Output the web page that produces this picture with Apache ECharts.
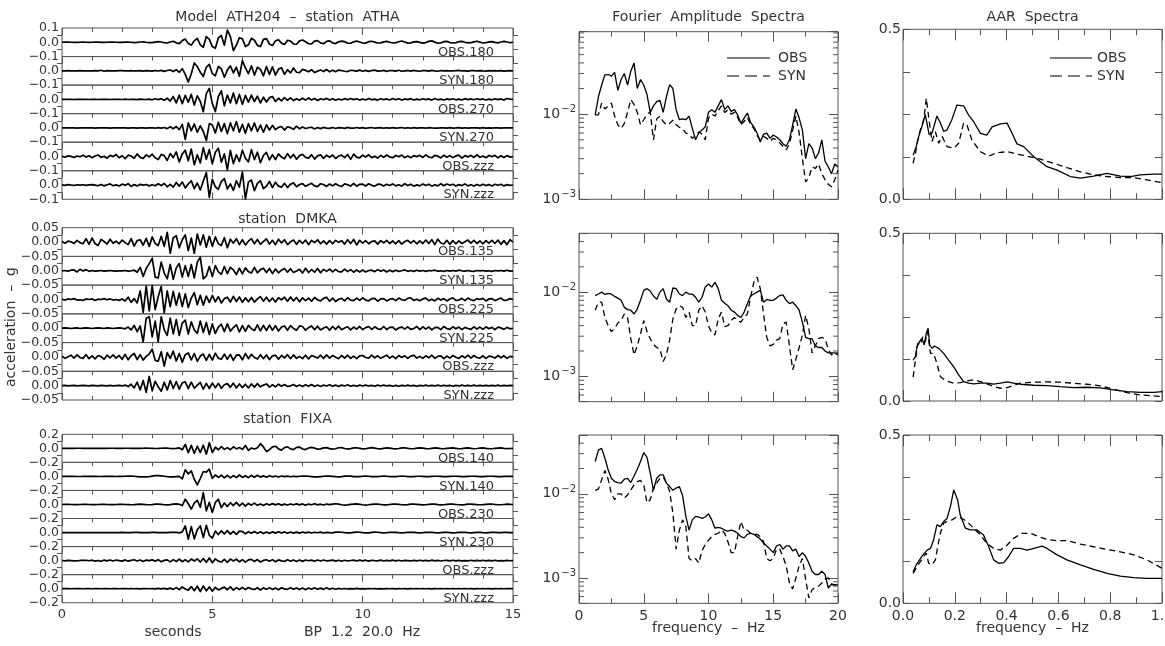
<!DOCTYPE html>
<html>
<head>
<meta charset="utf-8">
<script src="https://cdn.jsdelivr.net/npm/echarts@6/dist/echarts.min.js"></script>
<style>
  html, body { margin: 0; padding: 0; background: #fff; }
  #chart { width: 1165px; height: 646px; }
</style>
</head>
<body>
<div id="chart"></div>
<script>
// ---------------------------------------------------------------------------
// Accelerograms, milli-g, one sample every 0.1 s from 0 to 15 s (151 samples)
// ---------------------------------------------------------------------------
const SAMPLE_DT = 0.1;

// station ATHA
const athaObs180 = [
0,1,1,0,-1,-1,0,1,0,-1, 0,1,1,-1,-1,0,1,1,0,-1, -1,1,2,0,-2,-1,2,3,0,-2,
-3,1,4,2,-3,-5,2,7,-4,-9, 12,22,-8,-20,10,28,-18,-35,40,20, -30,-42,30,48,-20,85,40,-58,-20,32,
24,-30,-18,28,14,-22,-30,20,26,-12, -22,10,18,-6,-16,14,8,-12,-14,10, 16,4,-10,-12,8,12,-4,-10,6,10,
-4,-9,3,8,4,-6,-7,3,8,2, -5,-6,4,7,1,-5,-4,3,6,0, -5,-3,4,9,2,-6,-4,3,5,-1,
-6,-2,6,10,1,-7,-4,4,6,-2, -5,-2,4,6,0,-4,-3,3,7,1, -5,-3,3,5,-1,-4,2,6,2,-3, 0];
const athaSyn180 = [
0,0,1,0,-1,0,1,0,0,-1, 0,1,0,4,-3,1,0,-1,0,1, 1,-1,0,2,-1,0,1,-2,1,0,
-2,2,-1,3,-4,2,6,-5,8,-10, 15,-25,-78,-20,55,30,-10,-40,25,45, -20,-35,30,15,-45,5,35,-15,25,-38,
72,20,-20,35,-30,25,10,-35,30,-25, 28,-30,12,22,-25,8,-15,20,-10,-12, 10,3,-6,8,-12,-2,6,-5,9,-7,
4,-6,5,2,-3,-5,4,1,-2,5, -3,3,-4,2,5,-2,-1,3,-4,2, 1,-2,4,-3,0,2,-2,3,-1,-3,
2,1,-2,3,-1,-3,2,0,2,-1, -1,2,3,-1,0,-2,1,2,-1,1, -1,-2,1,0,2,-1,1,-2,0,1, 0];
const athaObs270 = [
0,0,1,0,-1,0,0,1,0,-1, 0,1,-1,0,1,0,-1,1,0,0, -1,2,-1,1,0,-2,2,0,-1,2,
-3,4,-2,5,-6,8,-12,20,-25,30, -30,28,-20,35,-40,25,-15,-86,40,77, -30,-85,20,60,-45,30,-25,45,-30,35,
-35,28,-20,30,-15,22,-25,15,-18,12, 20,-15,8,-10,12,-6,10,-8,5,-6, 8,-5,10,-4,6,-8,4,-3,7,-5,
4,-6,3,-4,5,-3,6,-2,4,-5, 3,-4,6,-3,2,-5,4,-2,3,-4, 6,-3,4,-5,3,-2,5,-4,2,-3,
4,-2,3,-5,6,-3,2,-4,3,-2, 4,-3,2,-4,5,-2,3,-3,4,-2, 3,-4,2,-3,4,-2,3,-5,6,2, 0];
const athaSyn270 = [
0,0,0,1,0,-1,0,0,1,0, 0,-1,0,1,0,0,-1,0,1,0, 0,1,-1,0,1,-1,0,1,-1,0,
1,-2,2,-1,3,-5,8,-6,10,-12, 25,-80,35,-20,28,-30,15,-25,-88,30, 20,-35,40,-25,30,-40,35,-20,45,-30,
25,-38,30,-20,35,-25,20,-30,22,-15, 18,-12,4,10,-15,8,2,-10,12,-6, 6,-4,1,5,-7,3,-5,4,-1,-3,
3,-4,2,1,-3,4,-2,-2,3,-1, 2,-3,1,3,-2,0,2,-2,1,-1, 2,-1,0,3,-2,1,-2,2,-1,0,
1,-2,2,0,-1,-2,1,1,-1,2, -1,0,2,-1,1,-2,0,1,1,-1, 2,-1,0,-2,1,1,-1,0,1,0, 0];
const athaObsZ = [
2,-5,4,1,-7,3,-2,8,-4,5, -9,3,10,-6,2,-12,8,-1,14,-9, 5,-16,9,3,-12,18,-6,-14,11,-3,
16,-9,-22,14,6,-28,20,-8,32,-38, 18,44,-30,52,-58,12,-45,62,-20,48, -52,30,58,-40,18,-93,42,-50,12,-35,
44,-12,-38,48,-22,30,-44,8,28,-24, 12,-22,18,-4,-16,20,-10,14,-19,6, 15,-6,-12,13,-18,4,11,-13,9,-5,
10,-14,3,9,-8,14,-20,17,-5,-10, 9,-4,12,-8,2,-11,8,-6,10,-3, -9,7,-2,10,-8,4,-9,6,-1,8,
-7,11,-4,-9,8,2,-10,9,-5,6, -8,4,9,-11,6,-3,8,-7,12,-6, 3,-9,7,-2,8,-10,5,-7,6,-4, 0];
const athaSynZ = [
1,-2,3,0,-3,2,-1,2,-2,1, 3,-1,-5,4,-6,2,8,-5,1,-7, 6,-2,9,-10,3,-6,5,-1,4,-6,
2,-5,9,-4,11,-12,5,-15,18,-8, 22,-20,8,30,-25,14,-35,28,88,-86, 40,-12,-30,25,45,-28,8,-38,30,-15,
90,-98,20,35,-40,12,30,-25,-8,25, -18,20,-8,-15,12,-18,6,15,-12,4, 10,-9,2,12,-6,-11,9,3,-10,7,
-6,9,-3,-10,8,2,-7,11,-8,5, 6,-7,9,-2,-8,6,4,-7,5,-3, 8,-6,2,-7,9,-4,6,-8,1,-6,
7,-3,6,-8,2,-6,9,-5,7,-2, 5,-7,3,-4,8,-6,2,-7,4,-5, 6,-4,3,-7,5,-2,5,-6,3,-2, 0];

// station DMKA
const dmkaObs135 = [
2,-4,3,1,-5,6,-2,-6,12,-8, 14,-5,-12,9,2,-7,10,-4,3,-6, 7,-2,-9,12,-14,5,8,-11,13,-15,
18,-5,-12,20,-15,34,-39,15,22,-20, 8,25,-30,14,-39,28,-10,25,-18,20, -15,18,-6,-12,15,-20,10,-4,12,-9,
8,-10,3,12,-6,9,-8,2,11,-7, 6,-9,10,-3,8,-9,1,7,-8,6, -5,7,-9,6,-2,8,-6,4,-7,5,
-6,6,-1,5,-7,8,-5,9,-10,6, -4,5,-6,2,4,-7,5,-3,6,-5, 4,-6,5,-7,2,6,-4,5,-6,4,
-5,7,-5,8,-9,10,-3,-7,6,-8, 5,-6,4,-5,1,7,-4,6,-5,4, -6,5,-4,6,-5,7,-8,5,-9,8, 0];
const dmkaSyn135 = [
0,1,-1,2,3,-4,5,-1,4,-2, 1,-1,0,1,-1,0,1,0,-1,0, 0,1,-1,0,2,-5,12,-20,8,25,
43,-22,-25,30,-8,-28,22,-30,10,25, -22,18,-20,22,-25,30,47,-28,-18,15, -20,18,-4,-12,15,-10,12,3,-13,9,
-11,10,-3,-8,12,-7,4,9,-6,8, -10,6,-7,2,8,-5,7,-6,-1,5, -8,9,-6,4,-5,8,-7,5,-2,6,
-4,5,-3,-4,6,-3,4,-5,3,-4, 3,-4,1,2,-3,4,-2,3,-4,2, -3,2,-2,0,3,-2,1,-2,2,-1,
1,-2,1,0,2,-1,0,-2,1,-1, 1,-1,2,0,-1,1,-1,-2,1,0, 1,-1,0,-2,1,0,1,-1,2,-1, 0];
const dmkaObs225 = [
1,-2,2,0,3,-2,-1,-3,2,0, 2,-3,1,0,3,-1,2,-2,0,-3, 2,-5,8,-10,3,-12,30,-45,47,-40,
48,-35,10,45,-47,30,-25,28,-20,22, -25,20,-28,5,24,-18,15,-20,12,-10, 14,-8,10,-12,3,8,-9,11,-7,9,
-10,6,-8,7,-9,2,10,-6,8,-7, 5,-9,6,-1,8,-6,9,-5,7,-8, 6,-4,5,-6,7,-1,-5,4,8,-6,
5,-7,1,4,-5,6,-2,-4,5,-3, 6,-2,-5,3,4,-6,2,3,-5,1, 3,-4,5,-1,-3,4,6,-3,1,-4,
2,5,-4,1,-5,4,-2,3,-5,2, 6,-3,-2,4,-4,5,-1,-4,3,0, 4,-5,2,3,-4,1,5,-3,-2,3, 0];
const dmkaSyn225 = [
0,1,0,-1,0,1,-1,0,1,0, -1,0,1,0,-1,1,0,-1,0,1, 0,-2,4,-6,10,-12,8,-48,35,40,
-30,25,-47,40,-5,-25,35,-20,30,-25, 18,28,-20,22,-6,-18,25,-15,20,-22, 15,-18,4,14,-12,15,-10,2,12,-13,
9,-11,10,-2,-8,12,-9,10,-8,11, -7,9,-10,4,8,-7,9,-1,-7,8, 6,-7,2,8,-5,7,-6,1,5,-7,
6,-4,7,-5,1,5,-6,4,-3,6, -5,2,6,-4,5,-2,-4,6,-5,3, 4,-6,1,4,-3,5,-4,-1,6,-5,
5,-3,4,-6,2,3,-5,6,-1,-4, 5,-2,4,-5,3,-1,-4,5,-3,4, -4,5,-2,3,-5,4,1,-4,3,-2, 0];
const dmkaObsZ = [
3,-5,1,6,-4,7,-2,-5,8,-6, 4,-7,5,1,-8,6,-3,7,-4,5, -8,9,-10,4,12,-9,8,-11,2,10,
27,-12,-15,18,-32,15,-5,20,-14,12, -18,8,14,-10,12,-15,3,10,-12,9, -11,13,-4,-8,10,-8,9,-12,6,7,
-10,12,-6,9,-2,-7,8,-6,7,-9, 4,6,-8,5,-3,8,-6,7,-5,2, -6,6,-7,5,1,-4,6,-5,7,-4,
5,-1,-6,5,-4,6,-5,3,-6,4, 5,-2,-4,6,-3,4,-5,1,6,-4, 3,-6,5,-2,4,-5,3,6,-4,2,
-5,4,-3,6,-5,2,4,-6,3,-4, 5,-1,-5,4,-3,6,-4,5,-2,-4, 4,-5,3,1,-4,5,-3,4,-5,2, 0];
const dmkaSynZ = [
0,1,-1,0,1,-1,0,1,0,-1, 1,0,-1,1,0,-1,1,-1,0,1, -1,2,-3,5,-8,12,-15,18,-23,32,
-18,15,-4,-20,12,-15,18,-10,14,-12, 10,13,-10,12,-9,2,11,-12,8,-10, 9,-7,8,-9,3,7,-6,9,-8,6,
-7,5,-8,6,-5,7,-4,2,6,-5, 3,-4,5,-2,4,-3,-1,4,-3,2, -3,3,-2,4,-3,2,-3,2,-1,3,
-2,2,-3,2,-1,3,-2,1,-2,2, -1,2,-1,1,-2,2,-1,2,-1,1, -2,1,-2,1,-1,2,-1,1,-2,1,
-1,2,-1,1,-1,2,-1,1,-1,1, -2,1,-1,2,-1,1,-1,2,-1,1, -1,1,-1,1,-1,2,-1,1,-1,1, 0];

// station FIXA
const fixaObs140 = [
0,1,0,-1,0,1,1,0,-1,0, 0,1,0,-1,-1,0,1,1,0,-1, 0,1,1,0,-1,-1,0,1,2,1,
0,-2,-1,1,3,2,-2,-4,-1,6, -20,56,-61,42,-70,30,-60,45,-84,80, -61,15,-20,25,-15,10,-20,22,-8,12,
-15,42,-30,5,-10,8,66,20,-47,-20, 20,30,-8,-25,10,22,-8,-18,14,18, -10,-18,5,14,4,-12,-8,6,10,-4,
-12,-6,8,10,-2,-10,-4,6,8,0, -8,-6,4,10,4,-6,-8,0,6,4, -4,-8,-2,6,8,0,-6,-6,2,6,
4,-4,-6,0,6,4,-4,-6,0,4, 6,0,-6,-4,4,6,0,-6,-2,4, 6,0,-4,-6,0,4,6,0,-4,-2, 0];
const fixaSyn140 = [
0,0,1,1,0,-1,-1,0,0,1, 1,0,-1,-1,0,1,1,0,-1,0, 0,2,4,4,2,-2,-6,-8,-6,-2,
4,10,12,8,2,-4,-8,-6,-2,0, -35,94,35,80,-40,-122,-30,70,60,103, -28,20,-15,18,-22,15,-20,12,-18,20,
-15,10,-18,14,-12,16,-10,8,-12,10, -6,5,-8,6,-4,3,-5,2,-3,2, 4,6,2,-2,-6,-6,-2,2,6,4,
0,-4,-6,-2,4,6,4,-2,-4,-2, 2,4,2,-2,-4,-2,2,4,2,-2, -4,-2,2,4,2,-2,-4,-2,2,2,
0,-2,-2,0,2,2,0,-2,-2,0, 2,2,0,-2,-2,0,2,2,0,-2, -2,0,2,2,0,-2,-2,0,2,0, 0];
const fixaObs230 = [
0,1,1,0,-1,-1,0,1,1,0, -1,-1,0,1,1,0,-1,-1,0,1, 2,0,-2,-4,-2,2,4,2,-2,-4,
-2,4,6,2,-4,-6,-2,6,8,2, -15,75,10,-66,20,60,-40,170,-90,30, -113,30,75,-45,20,-30,25,-15,30,-20,
18,-22,15,-10,20,-12,8,-15,10,-8, 12,-6,10,-9,5,-8,6,-4,8,-5, 8,-12,6,-4,10,-6,4,-8,6,-2,
6,10,4,-4,-8,-6,2,6,8,2, -4,-8,-4,2,6,6,0,-6,-6,0, 4,6,2,-4,-6,-2,4,6,2,-2,
-6,-4,2,6,4,-2,-6,-4,2,4, 4,0,-4,-6,-2,4,6,2,-2,-4, -2,2,6,4,0,-4,-4,0,4,2, 0];
const fixaSyn230 = [
0,0,1,0,0,-1,0,0,1,0, 0,-1,0,0,1,0,0,-1,0,0, 2,0,-2,0,2,2,0,-2,-2,0,
2,2,0,-2,-2,0,2,4,2,-4, 10,94,-94,85,-90,40,94,-70,103,-40, -80,20,-28,25,-20,28,-22,18,-25,20,
15,-18,12,-10,15,-12,10,-14,8,-12, 10,-8,12,-6,9,-10,7,-8,6,-9, 8,-5,6,-7,4,-3,5,-6,3,-2,
-4,6,8,4,-2,-6,-4,2,6,4, -2,-6,-4,2,6,4,-2,-4,-2,2, 4,2,-2,-4,-2,2,4,2,-2,-4,
-2,2,4,2,-2,-4,-2,2,4,0, -4,-2,2,4,2,-2,-4,0,2,2, -2,-4,0,4,2,-2,-2,2,2,0, 0];
const fixaObsZ = [
2,-3,4,1,-3,-4,2,3,5,-2, 6,-8,2,-10,7,-3,9,-5,8,1, -7,10,-8,3,12,-6,9,-12,8,-1,
11,-7,12,-15,3,10,-18,14,-12,20, -16,12,-18,22,-5,25,-20,28,-24,38, -30,25,-8,-20,18,-25,22,-5,20,-18,
15,-22,10,18,-12,15,-20,3,12,-10, 14,-16,10,-4,-12,12,-9,10,-14,8, -11,9,-2,7,-10,8,-6,9,-5,1,
7,-8,6,-9,5,-6,2,6,-5,7, -4,6,-7,5,-1,-4,6,-5,4,-3, 6,-4,5,-6,4,1,-5,4,-3,5,
-4,4,-5,6,-4,3,-5,2,4,-3, 5,-3,4,-5,1,-4,5,-3,4,-3, 5,-4,3,-4,5,-3,1,-4,3,-2, 0];
const fixaSynZ = [
0,1,0,-1,0,1,0,-1,1,0, -1,1,0,-1,1,0,-1,0,1,-1, 1,0,-1,2,-1,1,-2,1,0,-1,
2,-3,4,-2,5,-6,8,-10,15,-12, 25,-5,-20,30,-28,35,-40,38,-30,25, -35,20,-18,4,22,-15,25,-20,15,-12,
18,-14,16,-3,-12,14,-18,12,-10,15, -12,10,-14,12,-2,-10,15,-8,11,-12, 9,-14,10,-8,12,-9,8,-10,15,-7,
6,-8,5,-4,3,-4,2,-3,4,-2, 2,-2,3,-1,2,-3,1,-2,2,-1, 1,-2,2,-1,1,-2,1,-1,2,-1,
2,-1,1,-2,1,-1,2,-1,1,-1, 1,-1,2,-1,1,-1,1,-2,1,-1, 1,-1,1,-2,1,-1,1,-1,1,0, 0];

// ---------------------------------------------------------------------------
// Fourier amplitude spectra, sampled every 0.25 Hz from 1.25 to 20 Hz
// ---------------------------------------------------------------------------
const FAS_F0 = 1.25, FAS_DF = 0.25;
const fasAthaObs = [
.0098,.016,.022,.029, .0292,.028,.031,.019, .0255,.030,.022,.032, .040,.020,.0255,.022,
.017,.0105,.0125,.014, .0145,.0105,.016,.0222, .020,.0113,.0086,.0088, .0086,.0095,.0068,.0050,
.0060,.0065,.0071,.0105, .0113,.0105,.0125,.0148, .0113,.0125,.0108,.0113, .0098,.0078,.0090,.0103,
.0080,.0071,.0060,.0047, .0058,.0060,.0052,.0057, .0054,.0050,.0045,.0042, .0050,.0075,.0115,.0090,
.0065,.0030,.0045,.0040, .0030,.0035,.0050,.0028, .0024,.0020,.0026,.0024];
const fasAthaSyn = [
.0098,.0098,.0135,.0115, .0125,.0135,.0095,.0075, .0068,.0078,.0105,.0148, .0130,.0105,.0075,.0086,
.0100,.0106,.0050,.0088, .0095,.0082,.0075,.0078, .0085,.0075,.0070,.0068, .0060,.0058,.0052,.0056,
.0062,.0058,.0050,.0090, .0100,.0095,.0110,.0125, .0105,.0112,.0100,.0105, .0092,.0075,.0082,.0092,
.0075,.0068,.0056,.0050, .0055,.0052,.0048,.0052, .0050,.0046,.0042,.0038, .0045,.0065,.0095,.0060,
.0030,.0016,.0018,.0024, .0023,.0026,.0020,.0017, .0015,.0014,.0017,.0022];
const fasDmkaObs = [
.0091,.0095,.0100,.0094, .0097,.0095,.0089,.0085, .0080,.0066,.0062,.0061, .0055,.0063,.0080,.0105,
.0110,.0103,.0090,.0082, .0100,.0110,.0083,.0076, .0112,.0110,.0095,.0091, .0100,.0095,.0095,.0087,
.0076,.0087,.0115,.0125, .0115,.0131,.0110,.0080, .0074,.0069,.0061,.0058, .0053,.0050,.0058,.0073,
.0090,.0095,.0100,.0105, .0076,.0082,.0080,.0080, .0085,.0091,.0093,.0080, .0073,.0076,.0069,.0061,
.0044,.0029,.0028,.0028, .0023,.0022,.0022,.0020, .0019,.0019,.0019,.0018];
const fasDmkaSyn = [
.0061,.0076,.0076,.0050, .0040,.0034,.0037,.0043, .0046,.0055,.0050,.0028, .0018,.0023,.0032,.0046,
.0034,.0028,.0024,.0022, .0021,.0015,.0018,.0027, .0048,.0063,.0069,.0066, .0050,.0058,.0040,.0040,
.0061,.0069,.0058,.0040, .0033,.0031,.0048,.0058, .0039,.0040,.0046,.0050, .0046,.0044,.0050,.0055,
.0087,.0131,.0151,.0110, .0055,.0029,.0023,.0024, .0027,.0028,.0042,.0044, .0023,.0012,.0016,.0022,
.0031,.0053,.0037,.0019, .0023,.0028,.0029,.0028, .0021,.0018,.0019,.0019];
const fasFixaObs = [
.0242,.0331,.0347,.0265, .0193,.0153,.0140,.0136, .0134,.0149,.0153,.0136, .0163,.0196,.0242,.0309,
.0272,.0176,.0111,.0153, .0168,.0168,.0134,.0122, .0110,.0117,.0122,.0095, .0054,.0037,.0049,.0054,
.0053,.0051,.0053,.0058, .0049,.0039,.0040,.0039, .0037,.0036,.0037,.0036, .0034,.0031,.0030,.0033,
.0034,.0033,.0031,.0029, .0026,.0024,.0022,.0020, .0024,.0025,.0022,.0024, .0024,.0021,.0022,.0018,
.0020,.0018,.0015,.0012, .0011,.0011,.0012,.0011, .00076,.00085,.00083,.00083];
const fasFixaSyn = [
.0110,.0114,.0147,.0189, .0149,.0100,.0085,.0100, .0100,.0089,.0097,.0111, .0128,.0140,.0144,.0128,
.0078,.0085,.0117,.0134, .0153,.0158,.0134,.0107, .0059,.0022,.0037,.0049, .0041,.0017,.0016,.0017,
.0015,.0021,.0025,.0028, .0031,.0033,.0034,.0037, .0034,.0027,.0020,.0020, .0031,.0047,.0037,.0037,
.0034,.0033,.0033,.0031, .0027,.0017,.0016,.0017, .0022,.0022,.0018,.0014, .00087,.00074,.0010,.0014,
.0017,.00096,.00058,.00073, .00077,.0008,.00087,.00097, .0010,.00083,.00083,.00085];

// ---------------------------------------------------------------------------
// AAR spectra, [frequency Hz, value]
// ---------------------------------------------------------------------------
const aarAthaObs = [[0.039,0.130],[0.051,0.155],[0.064,0.194],[0.073,0.214],[0.086,0.250],[0.101,0.190],[0.112,0.195],[0.131,0.245],[0.144,0.225],[0.157,0.200],[0.170,0.204],[0.189,0.235],[0.208,0.277],[0.234,0.275],[0.253,0.248],[0.273,0.228],[0.299,0.194],[0.324,0.189],[0.344,0.213],[0.376,0.222],[0.402,0.224],[0.421,0.194],[0.44,0.163],[0.466,0.155],[0.505,0.125],[0.556,0.096],[0.595,0.086],[0.646,0.067],[0.685,0.062],[0.736,0.068],[0.788,0.076],[0.839,0.068],[0.878,0.067],[0.916,0.072],[0.968,0.074],[1.0,0.074]];
const aarAthaSyn = [[0.039,0.106],[0.048,0.135],[0.057,0.175],[0.067,0.204],[0.080,0.233],[0.090,0.297],[0.099,0.243],[0.112,0.170],[0.125,0.199],[0.138,0.165],[0.151,0.185],[0.170,0.155],[0.196,0.150],[0.215,0.165],[0.234,0.224],[0.247,0.219],[0.266,0.174],[0.299,0.140],[0.331,0.127],[0.363,0.137],[0.402,0.140],[0.44,0.133],[0.479,0.127],[0.53,0.118],[0.582,0.106],[0.633,0.093],[0.685,0.081],[0.736,0.072],[0.788,0.067],[0.839,0.064],[0.891,0.064],[0.942,0.057],[1.0,0.049]];
const aarDmkaObs = [[0.039,0.122],[0.048,0.132],[0.054,0.162],[0.064,0.177],[0.073,0.187],[0.082,0.167],[0.090,0.202],[0.097,0.217],[0.103,0.167],[0.112,0.157],[0.121,0.164],[0.138,0.157],[0.157,0.142],[0.176,0.122],[0.196,0.102],[0.215,0.078],[0.234,0.058],[0.254,0.053],[0.273,0.051],[0.299,0.053],[0.324,0.053],[0.350,0.050],[0.376,0.053],[0.402,0.057],[0.427,0.053],[0.453,0.050],[0.505,0.047],[0.556,0.046],[0.607,0.043],[0.659,0.040],[0.710,0.041],[0.762,0.039],[0.813,0.033],[0.865,0.028],[0.916,0.026],[0.968,0.026],[1.0,0.028]];
const aarDmkaSyn = [[0.039,0.071],[0.048,0.122],[0.057,0.172],[0.067,0.167],[0.077,0.192],[0.086,0.177],[0.095,0.207],[0.106,0.142],[0.118,0.142],[0.131,0.112],[0.144,0.073],[0.157,0.065],[0.176,0.058],[0.196,0.053],[0.221,0.055],[0.247,0.060],[0.273,0.063],[0.299,0.058],[0.324,0.051],[0.350,0.043],[0.376,0.038],[0.402,0.040],[0.427,0.046],[0.453,0.053],[0.505,0.056],[0.556,0.057],[0.607,0.056],[0.659,0.053],[0.710,0.050],[0.762,0.045],[0.813,0.035],[0.865,0.025],[0.916,0.018],[0.968,0.015],[1.0,0.013]];
const aarFixaObs = [[0.039,0.094],[0.051,0.114],[0.064,0.129],[0.077,0.144],[0.093,0.158],[0.106,0.163],[0.118,0.188],[0.131,0.233],[0.144,0.228],[0.157,0.243],[0.170,0.252],[0.183,0.287],[0.196,0.337],[0.202,0.342],[0.211,0.307],[0.221,0.262],[0.241,0.223],[0.260,0.218],[0.286,0.218],[0.311,0.203],[0.331,0.168],[0.350,0.129],[0.369,0.119],[0.389,0.121],[0.408,0.139],[0.427,0.163],[0.453,0.163],[0.479,0.158],[0.505,0.163],[0.537,0.170],[0.556,0.163],[0.595,0.144],[0.633,0.129],[0.685,0.114],[0.736,0.101],[0.788,0.089],[0.839,0.081],[0.891,0.076],[0.942,0.074],[1.0,0.074]];
const aarFixaSyn = [[0.039,0.089],[0.054,0.109],[0.067,0.124],[0.080,0.139],[0.090,0.149],[0.099,0.119],[0.112,0.114],[0.125,0.129],[0.134,0.168],[0.144,0.208],[0.157,0.238],[0.170,0.243],[0.189,0.248],[0.208,0.257],[0.228,0.252],[0.247,0.243],[0.273,0.223],[0.299,0.203],[0.324,0.178],[0.350,0.163],[0.376,0.158],[0.402,0.173],[0.427,0.193],[0.459,0.208],[0.492,0.208],[0.524,0.198],[0.556,0.190],[0.595,0.186],[0.633,0.186],[0.685,0.176],[0.736,0.168],[0.788,0.160],[0.839,0.153],[0.891,0.144],[0.942,0.129],[1.0,0.104]];

// ---------------------------------------------------------------------------
// Layout and styling
// ---------------------------------------------------------------------------
const AXIS = '#555';
const INK = '#000';
const TEXT = '#333';
const FONT = '"DejaVu Sans", sans-serif';
const SYN_DASH = [6, 4];

const SEIS_LEFT = 62, SEIS_W = 451;
const FAS_LEFT = 579, FAS_W = 259;
const AAR_LEFT = 903, AAR_W = 259;

const seisRows = [
  { title: 'Model  ATH204  \u2013  station  ATHA', titleY: 17, top: 28, bandH: 28.55, range: 100, digits: 1,
    bands: [['OBS.180', athaObs180], ['SYN.180', athaSyn180], ['OBS.270', athaObs270], ['SYN.270', athaSyn270], ['OBS.zzz', athaObsZ], ['SYN.zzz', athaSynZ]] },
  { title: 'station  DMKA', titleY: 219, top: 227.7, bandH: 28.72, range: 50, digits: 2,
    bands: [['OBS.135', dmkaObs135], ['SYN.135', dmkaSyn135], ['OBS.225', dmkaObs225], ['SYN.225', dmkaSyn225], ['OBS.zzz', dmkaObsZ], ['SYN.zzz', dmkaSynZ]] },
  { title: 'station  FIXA', titleY: 419, top: 434.3, bandH: 28.07, range: 200, digits: 1, timeLabels: true,
    bands: [['OBS.140', fixaObs140], ['SYN.140', fixaSyn140], ['OBS.230', fixaObs230], ['SYN.230', fixaSyn230], ['OBS.zzz', fixaObsZ], ['SYN.zzz', fixaSynZ]] }
];
const fasRows = [
  { top: 31.7, height: 167.6, min: 0.001, max: 0.093, obs: fasAthaObs, syn: fasAthaSyn },
  { top: 233.3, height: 168.4, min: 0.0005, max: 0.05, obs: fasDmkaObs, syn: fasDmkaSyn },
  { top: 435, height: 168.3, min: 0.0005, max: 0.05, obs: fasFixaObs, syn: fasFixaSyn, freqLabels: true }
];
const aarRows = [
  { top: 29.3, height: 170, obs: aarAthaObs, syn: aarAthaSyn },
  { top: 233.3, height: 167.7, obs: aarDmkaObs, syn: aarDmkaSyn },
  { top: 435, height: 168.3, obs: aarFixaObs, syn: aarFixaSyn, freqLabels: true }
];

const seisTime = Array.from({ length: 151 }, (_, i) => Math.round(i * SAMPLE_DT * 10) / 10);
const fasFreq = Array.from({ length: fasAthaObs.length }, (_, i) => FAS_F0 + i * FAS_DF);

const grid = [], xAxis = [], yAxis = [], series = [], graphic = [];

function signed(v, digits) {
  const s = Math.abs(v).toFixed(digits);
  return v < 0 ? '\u2212' + s : s;
}
function tickStyle(len) {
  return { show: true, inside: true, length: len, lineStyle: { color: AXIS, width: 1 } };
}
// axes sit on the box edges, never on the other axis' zero
const NO_LINE = { show: false, onZero: false };
function boxGrid(left, top, width, height) {
  return { left: left, top: top, width: width, height: height, show: true, outerBoundsMode: 'none',
    containLabel: false, borderColor: AXIS, borderWidth: 1, backgroundColor: 'transparent' };
}
function textEl(text, x, y, extra) {
  return Object.assign({ type: 'text', x: x, y: y, silent: true, z: 10,
    style: { text: text, fill: TEXT, font: '14px ' + FONT, textAlign: 'center', textVerticalAlign: 'middle' } }, extra || {});
}

// ---- seismogram columns ----
seisRows.forEach(row => {
  graphic.push(textEl(row.title, SEIS_LEFT + SEIS_W / 2, row.titleY));
  row.bands.forEach(([name, trace], k) => {
    const gi = grid.length;
    const bandTop = row.top + k * row.bandH;
    grid.push(boxGrid(SEIS_LEFT, bandTop, SEIS_W, row.bandH));
    const xi = xAxis.length;
    const timeAxis = (pos, labels) => ({
      type: 'value', gridIndex: gi, position: pos, min: 0, max: 15, interval: 5,
      axisLine: NO_LINE, splitLine: { show: false },
      axisTick: tickStyle(7),
      minorTick: { show: true, splitNumber: 5, length: 4, lineStyle: { color: AXIS } },
      axisLabel: { show: labels, margin: 5, fontSize: 13, color: TEXT, fontFamily: FONT }
    });
    xAxis.push(timeAxis('top', false));
    if (k === row.bands.length - 1) xAxis.push(timeAxis('bottom', !!row.timeLabels));
    const yi = yAxis.length;
    const valueAxis = (pos, labels) => ({
      type: 'value', gridIndex: gi, position: pos, min: -row.range, max: row.range, interval: row.range,
      axisLine: NO_LINE, splitLine: { show: false }, axisTick: { show: false },
      minorTick: { show: true, splitNumber: 2, length: 5, lineStyle: { color: AXIS } },
      axisLabel: { show: labels, margin: 3, fontSize: 12.5, color: TEXT, fontFamily: FONT,
        formatter: v => (k > 0 && v === row.range) ? '' : signed(v / 1000, row.digits) }
    });
    yAxis.push(valueAxis('left', true));
    yAxis.push(valueAxis('right', false));
    series.push({ type: 'line', name: name, xAxisIndex: xi, yAxisIndex: yi, silent: true, clip: false,
      symbol: 'none', animation: false, lineStyle: { color: INK, width: 1.7, join: 'round' },
      data: seisTime.map((t, i) => [t, trace[i]]) });
    graphic.push(textEl(name, 494, bandTop + row.bandH / 2 + 10, {
      style: { text: name, fill: TEXT, font: '13px ' + FONT, textAlign: 'right', textVerticalAlign: 'middle' } }));
  });
});
graphic.push(textEl('seconds', 173, 632));
graphic.push(textEl('BP  1.2  20.0  Hz', 362, 632));
graphic.push(textEl('acceleration  \u2013  g', 11, 327, { rotation: Math.PI / 2 }));

// ---- Fourier amplitude spectra ----
function logMinorTicks(min, max) {
  const out = [];
  for (let d = Math.floor(Math.log10(min)); d <= Math.ceil(Math.log10(max)); d++) {
    for (let m = 2; m <= 9; m++) {
      const v = m * Math.pow(10, d);
      if (v > min * 1.0001 && v < max * 0.9999) out.push(v);
    }
  }
  return out;
}
fasRows.forEach(row => {
  const gi = grid.length;
  grid.push(boxGrid(FAS_LEFT, row.top, FAS_W, row.height));
  const freqAxis = (pos, labels) => ({
    type: 'value', gridIndex: gi, position: pos, min: 0, max: 20, interval: 5,
    axisLine: NO_LINE, splitLine: { show: false }, axisTick: tickStyle(10),
    minorTick: { show: true, splitNumber: 2, length: 5, lineStyle: { color: AXIS } },
    axisLabel: { show: labels, margin: 6, fontSize: 14, color: TEXT, fontFamily: FONT }
  });
  const xi = xAxis.length;
  xAxis.push(freqAxis('bottom', !!row.freqLabels));
  xAxis.push(freqAxis('top', false));
  const ampAxis = (pos, labels) => ({
    type: 'log', logBase: 10, gridIndex: gi, position: pos, min: row.min, max: row.max,
    axisLine: NO_LINE, splitLine: { show: false }, axisTick: tickStyle(9),
    axisLabel: { show: labels, margin: 3, color: TEXT, fontFamily: FONT,
      formatter: v => {
        const e = Math.log10(v);
        return Math.abs(e - Math.round(e)) < 1e-6 ? '{b|10}{e|\u2212' + Math.abs(Math.round(e)) + '}' : '';
      },
      rich: { b: { fontSize: 14, color: TEXT, fontFamily: FONT },
              e: { fontSize: 10, color: TEXT, fontFamily: FONT, padding: [0, 0, 9, 1] } } }
  });
  const yi = yAxis.length;
  yAxis.push(ampAxis('left', true));
  yAxis.push(ampAxis('right', false));
  series.push({ type: 'custom', xAxisIndex: xi, yAxisIndex: yi, silent: true, animation: false,
    data: logMinorTicks(row.min, row.max).map(v => [0, v]),
    renderItem: (params, api) => {
      const v = api.value(1);
      const l = api.coord([0, v]), r = api.coord([20, v]);
      return { type: 'group', children: [
        { type: 'line', shape: { x1: l[0], y1: l[1], x2: l[0] + 5, y2: l[1] }, style: { stroke: AXIS, lineWidth: 1 } },
        { type: 'line', shape: { x1: r[0] - 5, y1: r[1], x2: r[0], y2: r[1] }, style: { stroke: AXIS, lineWidth: 1 } }
      ] };
    } });
  series.push({ type: 'line', name: 'OBS', xAxisIndex: xi, yAxisIndex: yi, silent: true, symbol: 'none', animation: false,
    lineStyle: { color: INK, width: 1.3 }, data: fasFreq.map((f, i) => [f, row.obs[i]]) });
  series.push({ type: 'line', name: 'SYN', xAxisIndex: xi, yAxisIndex: yi, silent: true, symbol: 'none', animation: false,
    lineStyle: { color: INK, width: 1.3, type: SYN_DASH }, data: fasFreq.map((f, i) => [f, row.syn[i]]) });
});
graphic.push(textEl('Fourier  Amplitude  Spectra', FAS_LEFT + FAS_W / 2, 17));
graphic.push(textEl('frequency  \u2013  Hz', FAS_LEFT + FAS_W / 2, 628));

// ---- AAR spectra ----
aarRows.forEach(row => {
  const gi = grid.length;
  grid.push(boxGrid(AAR_LEFT, row.top, AAR_W, row.height));
  const freqAxis = (pos, labels) => ({
    type: 'value', gridIndex: gi, position: pos, min: 0, max: 1, interval: 0.2,
    axisLine: NO_LINE, splitLine: { show: false }, axisTick: tickStyle(11),
    minorTick: { show: true, splitNumber: 2, length: 6, lineStyle: { color: AXIS } },
    axisLabel: { show: labels, margin: 6, fontSize: 14, color: TEXT, fontFamily: FONT, formatter: v => v.toFixed(1) }
  });
  const xi = xAxis.length;
  xAxis.push(freqAxis('bottom', !!row.freqLabels));
  xAxis.push(freqAxis('top', false));
  const ratioAxis = (pos, labels) => ({
    type: 'value', gridIndex: gi, position: pos, min: 0, max: 0.5, interval: 0.125,
    axisLine: NO_LINE, splitLine: { show: false }, axisTick: tickStyle(7),
    axisLabel: { show: labels, margin: 2, fontSize: 14, color: TEXT, fontFamily: FONT,
      formatter: v => (v === 0 || v === 0.5) ? v.toFixed(1) : '' }
  });
  const yi = yAxis.length;
  yAxis.push(ratioAxis('left', true));
  yAxis.push(ratioAxis('right', false));
  series.push({ type: 'line', name: 'OBS', xAxisIndex: xi, yAxisIndex: yi, silent: true, symbol: 'none', animation: false,
    lineStyle: { color: INK, width: 1.3 }, data: row.obs });
  series.push({ type: 'line', name: 'SYN', xAxisIndex: xi, yAxisIndex: yi, silent: true, symbol: 'none', animation: false,
    lineStyle: { color: INK, width: 1.3, type: SYN_DASH }, data: row.syn });
});
graphic.push(textEl('AAR  Spectra', AAR_LEFT + AAR_W / 2, 17));
graphic.push(textEl('frequency  \u2013  Hz', AAR_LEFT + AAR_W / 2, 628));

// ---- OBS / SYN keys in the top spectra panels ----
[[727, 770, 778], [1050, 1092, 1097]].forEach(([x1, x2, tx]) => {
  graphic.push({ type: 'line', silent: true, z: 10, shape: { x1: x1, y1: 58, x2: x2, y2: 58 }, style: { stroke: INK, lineWidth: 1.2 } });
  graphic.push({ type: 'line', silent: true, z: 10, shape: { x1: x1, y1: 76, x2: x2, y2: 76 }, style: { stroke: INK, lineWidth: 1.2, lineDash: [12, 6] } });
  graphic.push(textEl('OBS', tx, 58, { style: { text: 'OBS', fill: TEXT, font: '14px ' + FONT, textAlign: 'left', textVerticalAlign: 'middle' } }));
  graphic.push(textEl('SYN', tx, 76, { style: { text: 'SYN', fill: TEXT, font: '14px ' + FONT, textAlign: 'left', textVerticalAlign: 'middle' } }));
});

const chart = echarts.init(document.getElementById('chart'), null, { renderer: 'canvas' });
chart.setOption({
  animation: false,
  backgroundColor: '#fff',
  textStyle: { fontFamily: FONT },
  grid: grid,
  xAxis: xAxis,
  yAxis: yAxis,
  series: series,
  graphic: graphic
});
</script>
</body>
</html>
